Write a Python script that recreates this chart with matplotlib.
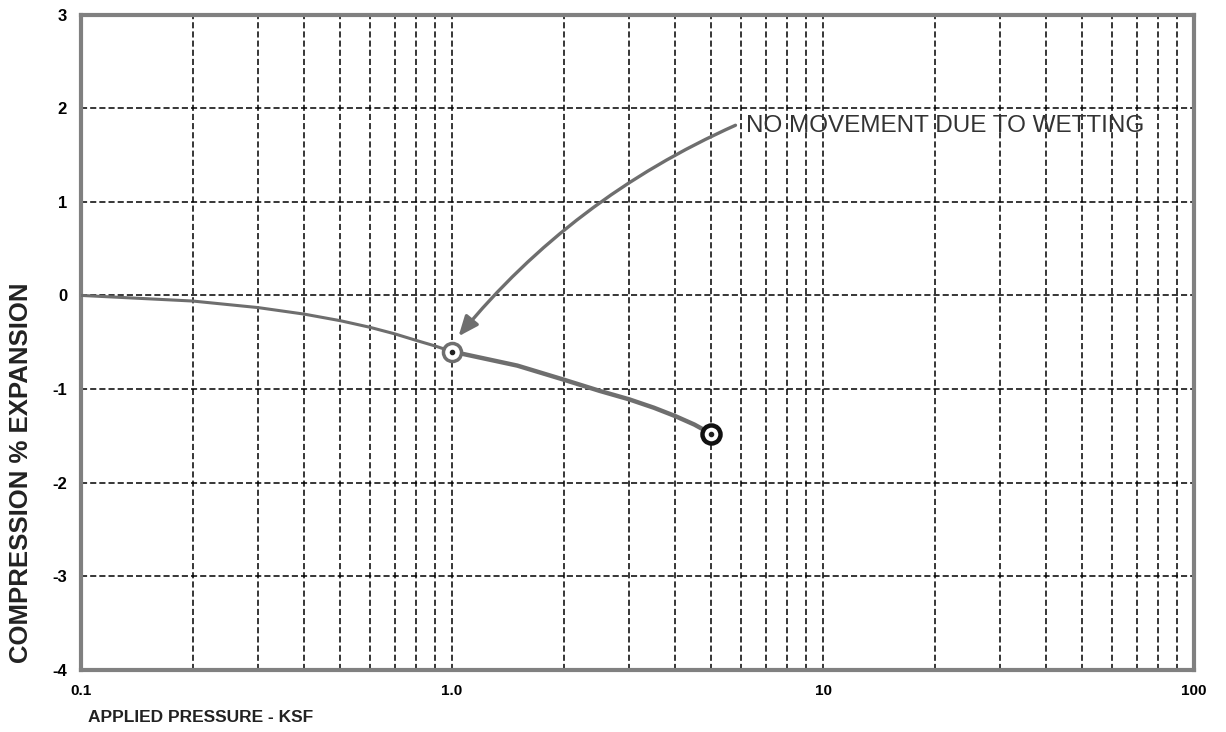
import matplotlib.pyplot as plt
from matplotlib.patches import FancyArrowPatch

# load curve, before wetting
pres_dry = [0.1, 0.2, 0.3, 0.4, 0.5, 0.6, 0.7, 0.8, 0.9, 1.0]
strain_dry = [0.0, -0.06, -0.13, -0.2, -0.27, -0.34, -0.41, -0.48, -0.54, -0.6]
# load curve, after wetting
pres_wet = [1.0, 1.5, 2.0, 2.5, 3.0, 3.5, 4.0, 4.5, 5.0]
strain_wet = [-0.6, -0.75, -0.9, -1.02, -1.11, -1.2, -1.29, -1.38, -1.48]

xticks = [0.1, 1.0, 10, 100]
xtick_labels = ['0.1', '1.0', '10', '100']
yticks = [-4, -3, -2, -1, 0, 1, 2, 3]

note = 'NO MOVEMENT DUE TO WETTING'
note_xy = (5.9, 1.83)
arrow_tip = (1.03, -0.46)

plt.rcParams['font.family'] = ['Liberation Sans', 'DejaVu Sans']

fig = plt.figure(figsize=(12.26, 7.32), dpi=100)
ax = fig.add_axes([0.066, 0.085, 0.908, 0.895])
ax.set_xscale('log')
ax.set_xlim(0.1, 100)
ax.set_ylim(-4, 3)

# grid
grid_x = [m * d for d in (0.1, 1, 10) for m in range(1, 10)][1:]
for gx in grid_x:
    ax.axvline(gx, color='black', lw=1.1, ls=(0, (4, 2)), zorder=1)
for gy in yticks[1:-1]:
    ax.axhline(gy, color='black', lw=1.1, ls=(0, (4, 2)), zorder=1)

# curves
ax.plot(pres_dry, strain_dry, color='#6e6e6e', lw=2.2, zorder=3)
ax.plot(pres_wet, strain_wet, color='#6e6e6e', lw=3.2, zorder=3, solid_capstyle='round', solid_joinstyle='round')

# points
ax.plot([pres_wet[0]], [strain_wet[0]], marker='o', ms=13, mfc='white', mec='#6e6e6e', mew=2.5, zorder=4)
ax.plot([pres_wet[-1]], [strain_wet[-1]], marker='o', ms=13, mfc='white', mec='#111111', mew=3.2, zorder=4)
ax.plot([pres_wet[0], pres_wet[-1]], [strain_wet[0], strain_wet[-1]], ls='none', marker='o', ms=3, color='#222222', zorder=5)

# note + arrow
ax.text(note_xy[0] * 1.05, note_xy[1] - 0.02, note, fontsize=17.5, color='#333333', va='center', ha='left', zorder=5)
arr = FancyArrowPatch(note_xy, arrow_tip, connectionstyle='arc3,rad=0.12', arrowstyle='-|>,head_length=12,head_width=5',
                      color='#6e6e6e', lw=2.4, zorder=5)
ax.add_patch(arr)

# frame
for s in ax.spines.values():
    s.set_color('#808080')
    s.set_linewidth(3)

ax.set_xticks(xticks)
ax.set_xticklabels(xtick_labels, fontsize=11, fontweight='bold')
ax.set_xticks([], minor=True)
ax.set_yticks(yticks)
ax.set_yticklabels([str(v) for v in yticks], fontsize=12, fontweight='bold')
ax.tick_params(length=0)
ax.tick_params(axis='x', pad=10)
ax.tick_params(axis='y', pad=10)

ax.set_xlabel('APPLIED PRESSURE - KSF', fontsize=12.5, fontweight='bold', color='#222222')
ax.xaxis.set_label_coords(0.006, -0.062)
ax.xaxis.label.set_ha('left')
ax.set_ylabel('COMPRESSION % EXPANSION', fontsize=18.5, fontweight='bold', color='#222222')
ax.yaxis.set_label_coords(-0.043, 0.30)

plt.savefig('out.png', dpi=100)
